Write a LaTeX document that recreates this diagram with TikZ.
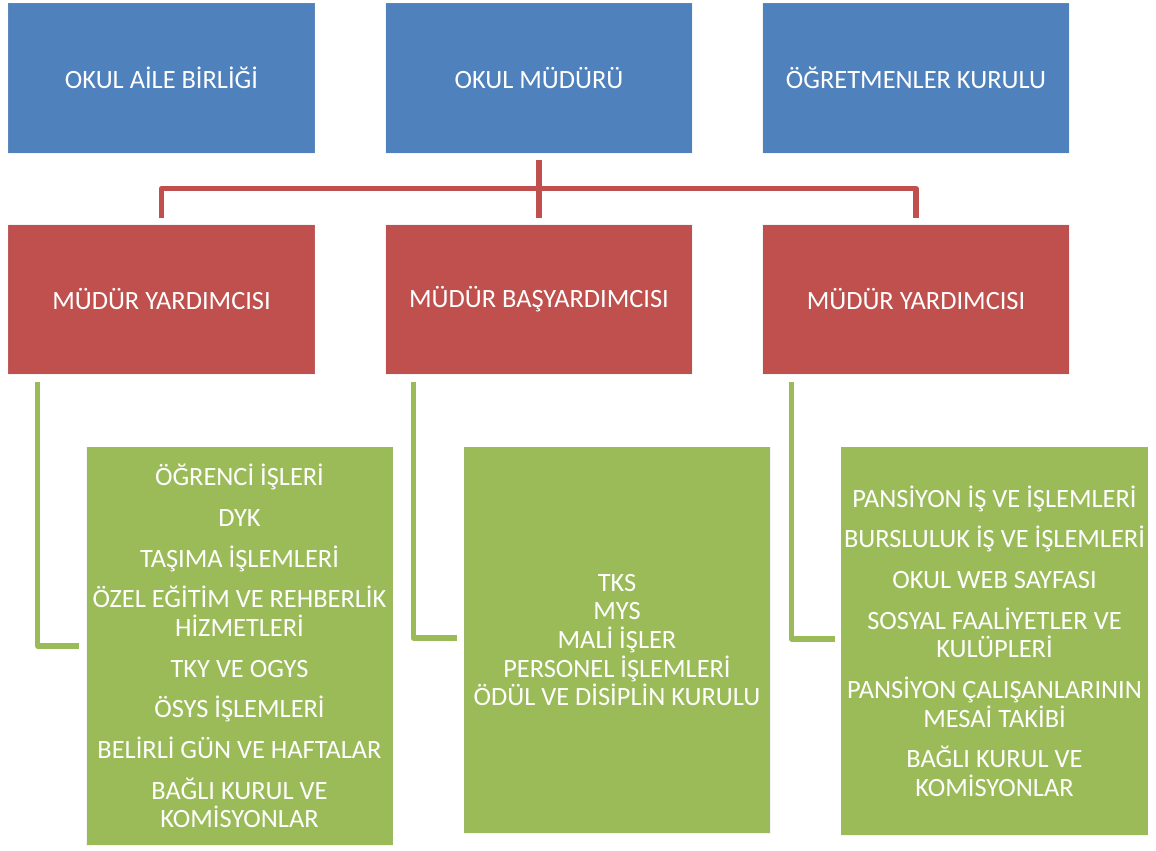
\documentclass[tikz,border=0pt]{standalone}
\usepackage{fontspec}
\setmainfont{Carlito}
\usetikzlibrary{calc}
\definecolor{obl}{HTML}{4F81BD}
\definecolor{ord}{HTML}{C0504D}
\definecolor{ogr}{HTML}{9BBB59}
\begin{document}
\begin{tikzpicture}[x=0.75pt,y=-0.75pt,
  box/.style={rectangle,inner sep=2pt,text=white,align=center,
    font=\fontsize{19.8pt}{21.5pt}\selectfont,draw=white!70!black,draw opacity=0.15,line width=0.6pt},
  bluebox/.style={box,fill=obl,minimum width=230pt,minimum height=112.5pt},
  redbox/.style={box,fill=ord,minimum width=230pt,minimum height=112pt},
  greenbox/.style={box,fill=ogr,minimum width=229.5pt},
  redline/.style={draw=ord,line width=3.8pt,line join=round},
  greenline/.style={draw=ogr,line width=3.8pt,line join=round}]
\useasboundingbox (0,0) rectangle (1156,850);
\node[bluebox] (b1) at (161.5,78) {OKUL AİLE BİRLİĞİ};
\node[bluebox] (b2) at (539,78) {OKUL MÜDÜRÜ};
\node[bluebox] (b3) at (916,78) {ÖĞRETMENLER KURULU};
\node[redbox] (r1) at (161.5,299.5) {MÜDÜR YARDIMCISI};
\node[redbox] (r2) at (539,299.5) {MÜDÜR BAŞYARDIMCISI};
\node[redbox] (r3) at (916,299.5) {MÜDÜR YARDIMCISI};
\node[greenbox,minimum height=298.5pt] (g1) at (239.5,646) {ÖĞRENCİ İŞLERİ\\[9pt]DYK\\[9pt]TAŞIMA İŞLEMLERİ\\[9pt]ÖZEL EĞİTİM VE REHBERLİK\\HİZMETLERİ\\[9pt]TKY VE OGYS\\[9pt]ÖSYS İŞLEMLERİ\\[9pt]BELİRLİ GÜN VE HAFTALAR\\[9pt]BAĞLI KURUL VE\\KOMİSYONLAR};
\node[greenbox,minimum height=289.5pt] (g2) at (617,640) {TKS\\MYS\\MALİ İŞLER\\PERSONEL İŞLEMLERİ\\ÖDÜL VE DİSİPLİN KURULU};
\node[greenbox,minimum height=291pt] (g3) at (994.5,641) {PANSİYON İŞ VE İŞLEMLERİ\\[9pt]BURSLULUK İŞ VE İŞLEMLERİ\\[9pt]OKUL WEB SAYFASI\\[9pt]SOSYAL FAALİYETLER VE\\KULÜPLERİ\\[9pt]PANSİYON ÇALIŞANLARININ\\MESAİ TAKİBİ\\[9pt]BAĞLI KURUL VE\\KOMİSYONLAR};
\draw[redline] ($(b2.south)+(0,7)$) -- ($(r2.north)+(0,-6)$);
\draw[redline] ($(r1.north)+(0,-6)$) |- ($(r3.north)+(0,-36)$) -- ($(r3.north)+(0,-6)$);
\draw[greenline] ($(r1.south west)+(30,7)$) |- ($(g1.west)+(-7,0)$);
\draw[greenline] ($(r2.south west)+(28,7)$) |- ($(g2.west)+(-7,-2)$);
\draw[greenline] ($(r3.south west)+(29,7)$) |- ($(g3.west)+(-6,-2)$);
\end{tikzpicture}
\end{document}
